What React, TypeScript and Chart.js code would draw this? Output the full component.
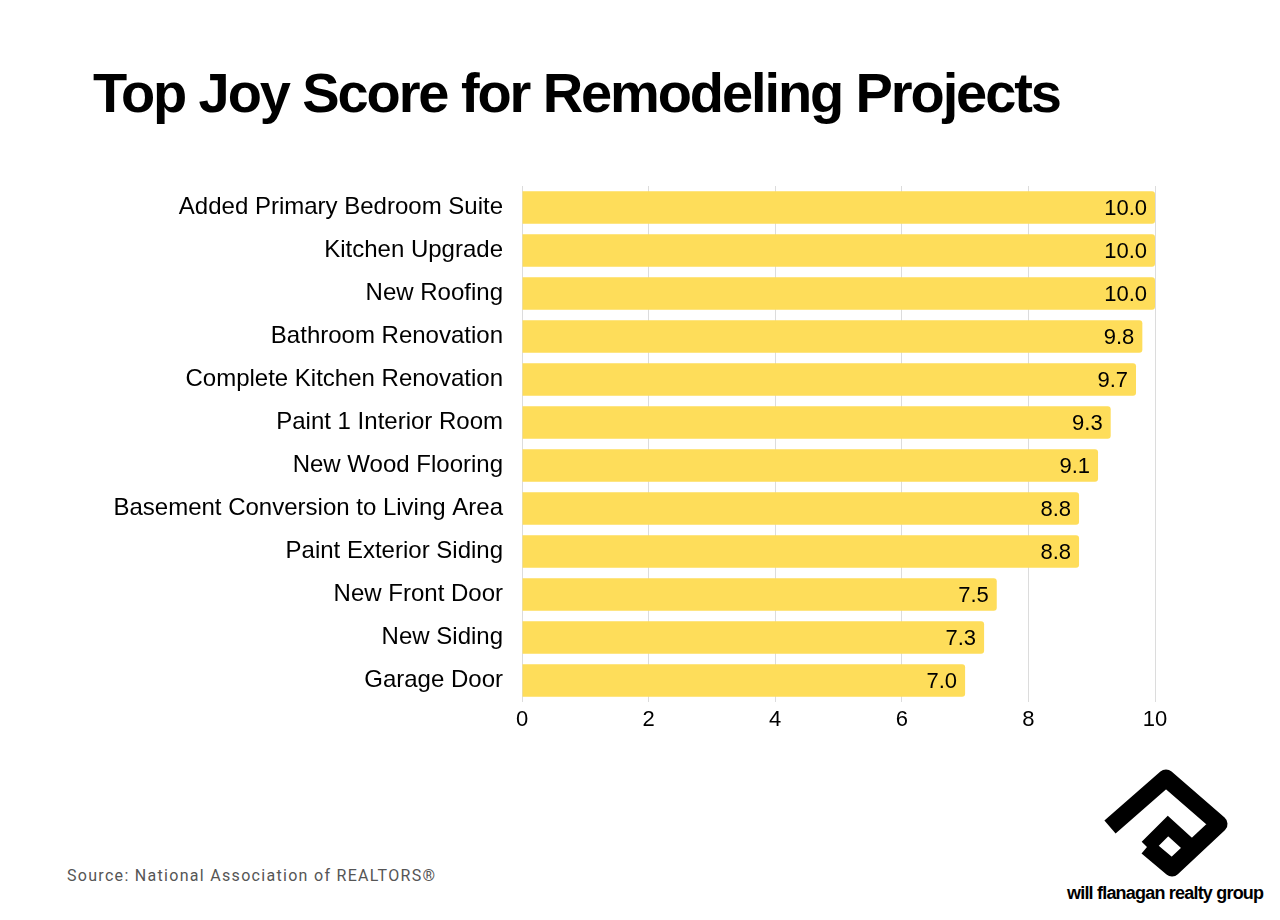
import React, { useEffect, useRef } from "react";
import { Chart, registerables } from "chart.js";

Chart.register(...registerables);

const categories = [
  "Added Primary Bedroom Suite",
  "Kitchen Upgrade",
  "New Roofing",
  "Bathroom Renovation",
  "Complete Kitchen Renovation",
  "Paint 1 Interior Room",
  "New Wood Flooring",
  "Basement Conversion to Living Area",
  "Paint Exterior Siding",
  "New Front Door",
  "New Siding",
  "Garage Door",
];
const joyScores = [10.0, 10.0, 10.0, 9.8, 9.7, 9.3, 9.1, 8.8, 8.8, 7.5, 7.3, 7.0];
const xTicks = [0, 2, 4, 6, 8, 10];

const FONT = "'Liberation Sans', Arial, Helvetica, sans-serif";

const valueLabels = {
  id: "valueLabels",
  afterDatasetsDraw(chart: any) {
    const ctx = chart.ctx;
    const meta = chart.getDatasetMeta(0);
    ctx.save();
    ctx.font = `22px ${FONT}`;
    ctx.fillStyle = "#000";
    ctx.textAlign = "right";
    ctx.textBaseline = "middle";
    meta.data.forEach((bar: any, i: number) => {
      const v = chart.data.datasets[0].data[i] as number;
      ctx.fillText(v.toFixed(1), bar.x - 8, bar.y + 1);
    });
    ctx.restore();
  },
};

function ChartBox() {
  const ref = useRef<HTMLCanvasElement | null>(null);
  useEffect(() => {
    if (!ref.current) return;
    const chart = new Chart(ref.current, {
      type: "bar",
      data: {
        labels: categories,
        datasets: [
          {
            data: joyScores,
            backgroundColor: "#FEDD5A",
            borderRadius: 3,
            barPercentage: 0.76,
            categoryPercentage: 1,
          },
        ],
      },
      options: {
        indexAxis: "y",
        responsive: false,
        animation: false,
        layout: { padding: { top: 36, right: 45, left: 0, bottom: 0 } },
        plugins: { legend: { display: false }, tooltip: { enabled: false } },
        scales: {
          x: {
            min: 0,
            max: 10,
            afterBuildTicks(scale: any) {
              scale.ticks = xTicks.map((v) => ({ value: v }));
            },
            afterFit(scale: any) {
              scale.height = 40;
            },
            grid: { color: "#dcdcdc", drawTicks: false, lineWidth: 1 },
            border: { display: false },
            ticks: {
              color: "#000",
              font: { family: FONT, size: 22 },
              padding: 5,
            },
          },
          y: {
            afterFit(scale: any) {
              scale.width = 522;
            },
            grid: { display: false, drawTicks: false },
            border: { display: false },
            ticks: {
              color: "#000",
              font: { family: FONT, size: 24 },
              padding: 19,
            },
          },
        },
      },
      plugins: [valueLabels],
    });
    return () => chart.destroy();
  }, []);
  return (
    <canvas
      ref={ref}
      width={1200}
      height={592}
      style={{ position: "absolute", left: 0, top: 150, width: 1200, height: 592 }}
    />
  );
}

function Logo() {
  return (
    <svg
      width={150}
      height={120}
      viewBox="0 0 150 120"
      style={{ position: "absolute", left: 1090, top: 765 }}
    >
      <g fill="none" stroke="#000" strokeWidth={17} strokeLinejoin="round" strokeLinecap="butt">
        <polyline points="20,62 76,13 129,59 82,103 57,82" />
        <polyline points="57,82 78,61 101,82" strokeWidth={15} strokeLinejoin="miter" />
      </g>
    </svg>
  );
}

export default function App() {
  useEffect(() => {
    document.body.style.margin = "0";
  }, []);
  return (
    <div
      style={{
        position: "relative",
        width: 1280,
        height: 920,
        background: "#fff",
        overflow: "hidden",
      }}
    >
      <div
        style={{
          position: "absolute",
          left: 93,
          top: 65,
          fontFamily: FONT,
          fontWeight: 700,
          fontSize: 56,
          lineHeight: 1,
          letterSpacing: -2.1,
          color: "#000",
          whiteSpace: "nowrap",
        }}
      >
        Top Joy Score for Remodeling Projects
      </div>
      <ChartBox />
      <div
        style={{
          position: "absolute",
          left: 67,
          top: 868,
          fontFamily: "Roboto, 'Open Sans', sans-serif",
          fontSize: 16,
          lineHeight: 1,
          letterSpacing: 1.3,
          color: "#555",
          whiteSpace: "nowrap",
        }}
      >
        Source: National Association of REALTORS®
      </div>
      <Logo />
      <div
        style={{
          position: "absolute",
          left: 1067,
          top: 884,
          fontFamily: FONT,
          fontWeight: 700,
          fontSize: 18,
          lineHeight: 1,
          letterSpacing: -0.8,
          color: "#000",
          whiteSpace: "nowrap",
        }}
      >
        will flanagan realty group
      </div>
    </div>
  );
}
